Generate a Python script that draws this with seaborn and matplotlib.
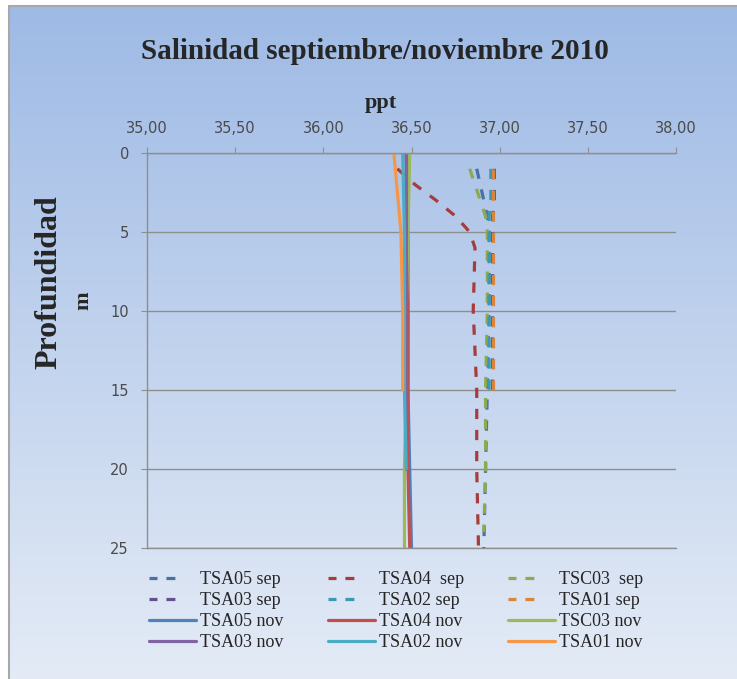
import numpy as np
import pandas as pd
import matplotlib
matplotlib.use("Agg")
import matplotlib.pyplot as plt
import seaborn as sns
from matplotlib.lines import Line2D

sns.set_style("ticks")
plt.rcParams["font.family"] = ["DejaVu Sans"]

# ---------------- data ----------------
tsa05_sep_depth = [1, 2, 3, 4, 5, 10, 15, 20, 25]
tsa05_sep_sal = [36.87, 36.89, 36.91, 36.93, 36.94, 36.94, 36.93, 36.92, 36.91]
tsa04_sep_depth = [1, 2, 3, 4, 5, 6, 10, 15, 20, 25]
tsa04_sep_sal = [36.42, 36.52, 36.64, 36.75, 36.83, 36.86, 36.85, 36.87, 36.87, 36.88]
tsc03_sep_depth = [1, 2, 3, 4, 5, 10, 15, 20, 24]
tsc03_sep_sal = [36.83, 36.86, 36.89, 36.92, 36.93, 36.93, 36.92, 36.92, 36.91]
tsa03_sep_depth = [1, 2, 3, 4, 5, 10, 15]
tsa03_sep_sal = [36.97, 36.97, 36.97, 36.96, 36.96, 36.96, 36.96]
tsa02_sep_depth = [1, 2, 3, 4, 5, 10, 15]
tsa02_sep_sal = [36.95, 36.95, 36.95, 36.94, 36.94, 36.94, 36.94]
tsa01_sep_depth = [1, 2, 3, 4, 5, 10, 15]
tsa01_sep_sal = [36.96, 36.96, 36.96, 36.96, 36.96, 36.96, 36.96]

tsa05_nov_depth = [0, 5, 10, 15, 20, 25]
tsa05_nov_sal = [36.47, 36.47, 36.48, 36.48, 36.49, 36.50]
tsa04_nov_depth = [0, 5, 10, 15, 20, 25]
tsa04_nov_sal = [36.47, 36.48, 36.48, 36.48, 36.48, 36.49]
tsc03_nov_depth = [0, 5, 10, 15, 20, 25]
tsc03_nov_sal = [36.49, 36.48, 36.47, 36.47, 36.46, 36.46]
tsa03_nov_depth = [0, 5, 10, 15, 20]
tsa03_nov_sal = [36.47, 36.47, 36.47, 36.47, 36.47]
tsa02_nov_depth = [0, 5, 10, 15, 20]
tsa02_nov_sal = [36.45, 36.46, 36.46, 36.46, 36.47]
tsa01_nov_depth = [0, 5, 10, 15]
tsa01_nov_sal = [36.40, 36.44, 36.45, 36.45]

series_names = ["TSA05 sep", "TSA04  sep", "TSC03  sep", "TSA03 sep", "TSA02 sep", "TSA01 sep",
                "TSA05 nov", "TSA04 nov", "TSC03 nov", "TSA03 nov", "TSA02 nov", "TSA01 nov"]
series_depths = [tsa05_sep_depth, tsa04_sep_depth, tsc03_sep_depth, tsa03_sep_depth,
                 tsa02_sep_depth, tsa01_sep_depth, tsa05_nov_depth, tsa04_nov_depth,
                 tsc03_nov_depth, tsa03_nov_depth, tsa02_nov_depth, tsa01_nov_depth]
series_sals = [tsa05_sep_sal, tsa04_sep_sal, tsc03_sep_sal, tsa03_sep_sal,
               tsa02_sep_sal, tsa01_sep_sal, tsa05_nov_sal, tsa04_nov_sal,
               tsc03_nov_sal, tsa03_nov_sal, tsa02_nov_sal, tsa01_nov_sal]
series_colors = ["#4A70A8", "#A63C3B", "#8BAA52", "#65508F", "#3C98B0", "#D9853C",
                 "#4F81BD", "#C0504D", "#9BBB59", "#8064A2", "#4BACC6", "#F79646"]

x_ticks = [35.0, 35.5, 36.0, 36.5, 37.0, 37.5, 38.0]
x_tick_labels = ["35,00", "35,50", "36,00", "36,50", "37,00", "37,50", "38,00"]
y_ticks = [0, 5, 10, 15, 20, 25]

W, H = 737, 679
fig = plt.figure(figsize=(W / 100, H / 100), dpi=100)
fig.patch.set_facecolor("white")

# background gradient panel
bg = fig.add_axes([0, 0, 1, 1], zorder=-10)
bg.set_xlim(0, W)
bg.set_ylim(H, 0)
bg.axis("off")
top_c = np.array([158, 186, 229]) / 255
bot_c = np.array([228, 235, 246]) / 255
t = np.linspace(0, 1, 256)[:, None]
grad = (top_c[None, :] * (1 - t) + bot_c[None, :] * t)[:, None, :]
bg.imshow(grad, extent=(9, W, H, 6), aspect="auto", interpolation="bilinear")
bg.plot([9, 9], [H, 6], color="#A8A8A8", lw=1.5)
bg.plot([9, W], [6, 6], color="#A8A8A8", lw=1.5)
bg.set_xlim(0, W)
bg.set_ylim(H, 0)

ax = fig.add_axes([147 / W, 1 - 548 / H, (676 - 147) / W, (548 - 153) / H])
ax.set_facecolor("none")

for name, d, s, c in zip(series_names, series_depths, series_sals, series_colors):
    df = pd.DataFrame({"sal": s, "depth": d})
    kws = dict(color=c, lw=2.3, label=name)
    if "sep" in name:
        kws["linestyle"] = (0, (3.2, 3.4))
    sns.lineplot(data=df, x="sal", y="depth", orient="y", sort=False,
                 estimator=None, ax=ax, **kws)

if ax.get_legend() is not None:
    ax.get_legend().remove()

ax.set_xlim(35, 38)
ax.set_ylim(25, 0)
ax.xaxis.tick_top()
ax.set_xticks(x_ticks)
ax.set_xticklabels(x_tick_labels)
ax.set_yticks(y_ticks)
ax.set_xlabel("")
ax.set_ylabel("")
grid_c = "#8E8E8E"
ax.yaxis.grid(True, color=grid_c, lw=1.0)
ax.xaxis.grid(False)
for side in ["top", "left", "bottom"]:
    ax.spines[side].set_color(grid_c)
    ax.spines[side].set_linewidth(1.0)
ax.spines["right"].set_visible(False)
ax.tick_params(axis="x", which="major", direction="out", length=4, color=grid_c,
               labelsize=10.5, labelcolor="#4A4A4A", pad=8)
ax.tick_params(axis="y", which="major", direction="out", length=4, color=grid_c,
               labelsize=10.5, labelcolor="#4A4A4A", pad=9)

serif = ["Liberation Serif", "DejaVu Serif"]
fig.text(375 / W, 1 - 59 / H, "Salinidad septiembre/noviembre 2010", family=serif,
         fontsize=21, fontweight="bold", ha="center", va="baseline")
fig.text(381 / W, 1 - 108 / H, "ppt", family=serif, fontsize=16, fontweight="bold",
         ha="center", va="baseline")
fig.text(48.5 / W, 1 - 282 / H, "Profundidad", family=serif, fontsize=23,
         fontweight="bold", rotation=90, ha="center", va="center")
fig.text(83.5 / W, 1 - 301 / H, "m", family=serif, fontsize=16,
         fontweight="bold", rotation=90, ha="center", va="center")

# legend: three columns placed like the reference
handles = {l.get_label(): l for l in ax.get_lines()}
columns = [["TSA05 sep", "TSA03 sep", "TSA05 nov", "TSA03 nov"],
           ["TSA04  sep", "TSA02 sep", "TSA04 nov", "TSA02 nov"],
           ["TSC03  sep", "TSA01 sep", "TSC03 nov", "TSA01 nov"]]
col_x = [149, 328, 508]
for cx, names in zip(col_x, columns):
    hs = []
    for n in names:
        h = Line2D([], [], color=handles[n].get_color(), lw=2.3)
        if "sep" in n:
            h.set_linestyle((0, (2.5, 2.8, 2.8, 14)))
        hs.append(h)
    fig.legend(hs, names, loc="upper left",
               bbox_to_anchor=(cx / W, 1 - 571 / H), frameon=False,
               prop={"family": serif, "size": 13}, handlelength=2.6,
               handletextpad=0.2, labelspacing=0.22, borderpad=0,
               borderaxespad=0)

fig.savefig("out.png", dpi=100)
